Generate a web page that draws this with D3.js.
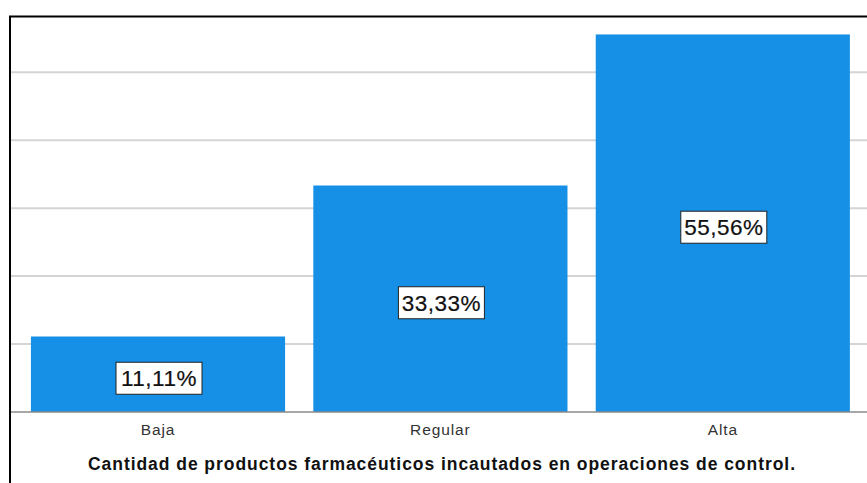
<!DOCTYPE html>
<html>
<head>
<meta charset="utf-8">
<script src="https://cdn.jsdelivr.net/npm/d3@7"></script>
<style>
    body { margin: 0; background: #fff; }
    svg { display: block; font-family: "Liberation Sans", Arial, sans-serif; }
</style>
</head>
<body>
<svg id="chart" width="867" height="483"></svg>
<script>
// data
const categories = ["Baja", "Regular", "Alta"]
const percents = [11.11, 33.33, 55.56]
const gridValues = [10, 20, 30, 40, 50]
const xTitle = "Cantidad de productos farmacéuticos incautados en operaciones de control."

const width = 867
const height = 483
const BAR_COLOR = "#1590e6"

let svg = d3.select("#chart")

let x = d3.scaleBand()
    .domain(categories)
    .range([16.8, 864])
    .paddingInner(0.1)
    .paddingOuter(0.05)

let y = d3.scaleLinear()
    .domain([0, 58.2])
    .range([412, 16.5])

// gridlines
svg.append("g")
    .selectAll("line")
    .data(gridValues)
    .join("line")
    .attr("x1", 10)
    .attr("x2", width)
    .attr("y1", d => y(d))
    .attr("y2", d => y(d))
    .attr("stroke", "#d4d4d4")
    .attr("stroke-width", 2)

// bars
svg.append("g")
    .selectAll("rect")
    .data(categories)
    .join("rect")
    .attr("x", d => x(d))
    .attr("width", x.bandwidth())
    .attr("y", (d, i) => y(percents[i]))
    .attr("height", (d, i) => y(0) - y(percents[i]))
    .attr("fill", BAR_COLOR)

// baseline
svg.append("line")
    .attr("x1", 10)
    .attr("x2", width)
    .attr("y1", y(0))
    .attr("y2", y(0))
    .attr("stroke", "#8a8a8a")
    .attr("stroke-width", 1.5)

// frame (left + top)
svg.append("path")
    .attr("d", `M10,${height} L10,16.5 L${width},16.5`)
    .attr("fill", "none")
    .attr("stroke", "#000")
    .attr("stroke-width", 2)

// value labels in boxes
let labels = svg.append("g")
    .selectAll("g")
    .data(categories)
    .join("g")
    .attr("transform", (d, i) => {
        let cy = (y(0) + y(percents[i])) / 2 + 4
        return `translate(${x(d) + x.bandwidth() / 2 + 1},${cy})`
    })

labels.append("rect")
    .attr("x", -43)
    .attr("y", -16)
    .attr("width", 86)
    .attr("height", 32)
    .attr("fill", "#fff")
    .attr("stroke", "#222")
    .attr("stroke-width", 1)

labels.append("text")
    .attr("text-anchor", "middle")
    .attr("dy", "0.36em")
    .attr("font-size", "22.5px")
    .attr("letter-spacing", "0.5px")
    .attr("fill", "#111")
    .attr("stroke", "#111")
    .attr("stroke-width", 0.2)
    .text((d, i) => percents[i].toFixed(2).replace(".", ",") + "%")

// category labels
svg.append("g")
    .selectAll("text")
    .data(categories)
    .join("text")
    .attr("x", d => x(d) + x.bandwidth() / 2)
    .attr("y", 435)
    .attr("text-anchor", "middle")
    .attr("font-size", "15.5px")
    .attr("letter-spacing", "0.9px")
    .attr("fill", "#333")
    .text(d => d)

// axis title
svg.append("text")
    .attr("x", 441.5)
    .attr("y", 470)
    .attr("text-anchor", "middle")
    .attr("font-size", "17.5px")
    .attr("font-weight", "bold")
    .attr("fill", "#111")
    .attr("textLength", 707)
    .attr("lengthAdjust", "spacing")
    .text(xTitle)
</script>
</body>
</html>
